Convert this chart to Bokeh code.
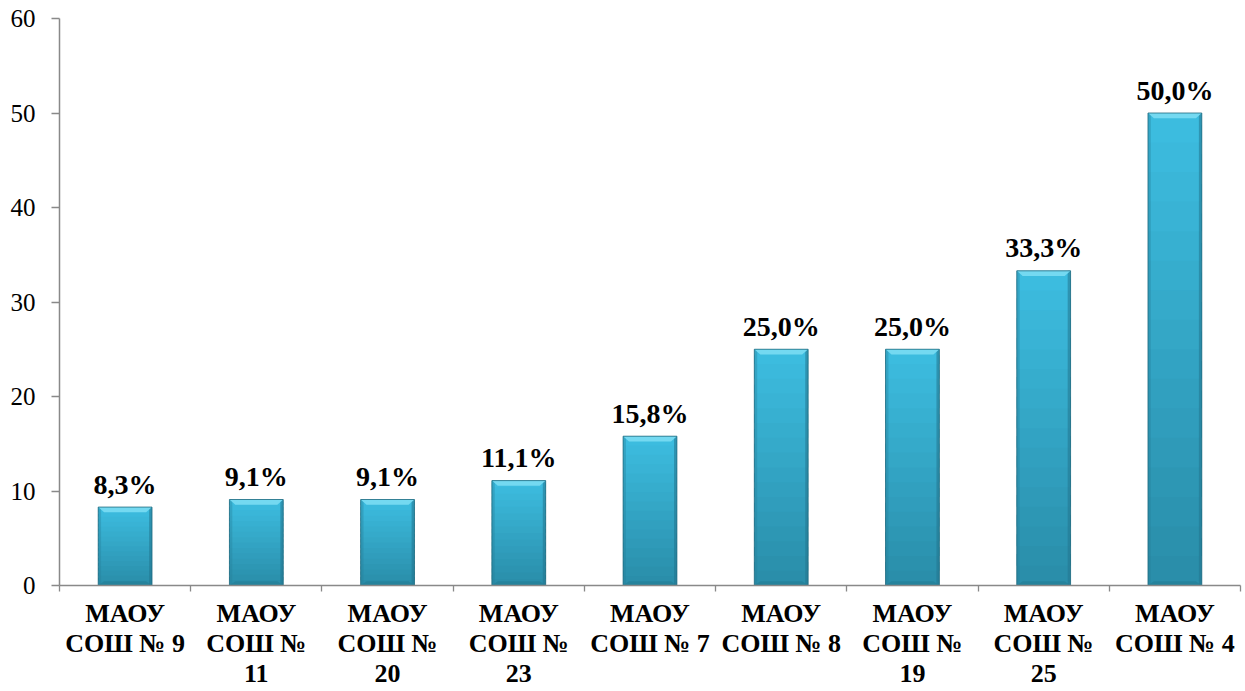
import numpy as np
from bokeh.plotting import figure
from bokeh.models import FixedTicker, Range1d, ColumnDataSource
from bokeh.core.properties import value
from bokeh.embed import file_html
from bokeh.resources import INLINE

# ---- data ----
categories = ["МАОУ\nСОШ № 9", "МАОУ\nСОШ №\n11", "МАОУ\nСОШ №\n20", "МАОУ\nСОШ №\n23",
              "МАОУ\nСОШ № 7", "МАОУ\nСОШ № 8", "МАОУ\nСОШ №\n19", "МАОУ\nСОШ №\n25",
              "МАОУ\nСОШ № 4"]
values = [8.3, 9.1, 9.1, 11.1, 15.8, 25.0, 25.0, 33.3, 50.0]
y_ticks = [0, 10, 20, 30, 40, 50, 60]

n = len(categories)
centers = [i + 0.5 for i in range(n)]
bar_w = 0.41

p = figure(width=1245, height=691, output_backend="svg", toolbar_location=None,
           x_range=Range1d(0, n), y_range=Range1d(0, 60),
           min_border_left=59, min_border_right=5, min_border_top=18, min_border_bottom=106)
p.outline_line_color = None
p.background_fill_color = "white"
p.border_fill_color = "white"
p.xgrid.visible = False
p.ygrid.visible = False

# ---- bars: vertical gradient built from overlapping slices of each bar ----
N = 16
top_c = np.array([0x3D, 0xBE, 0xE1])
bot_c = np.array([0x29, 0x8C, 0xA8])
xs, bots, tops, cols = [], [], [], []
for c, v in zip(centers, values):
    for k in range(N):
        b = v * k / N
        t = min(v, v * (k + 1.6) / N)
        f = (k + 0.5) / N
        col = bot_c + (top_c - bot_c) * f
        xs.append(c); bots.append(b); tops.append(t)
        cols.append("#%02x%02x%02x" % tuple(int(round(q)) for q in col))
p.vbar(x=xs, bottom=bots, top=tops, width=bar_w, fill_color=cols, line_color=None)

# side shading (darker right edge, slightly darker left edge)
edge = 0.022
p.vbar(x=[c + bar_w / 2 - edge / 2 for c in centers], bottom=0, top=values, width=edge,
       fill_color="#22758e", fill_alpha=0.55, line_color=None)
p.vbar(x=[c - bar_w / 2 + edge / 2 for c in centers], bottom=0, top=values, width=edge,
       fill_color="#267f99", fill_alpha=0.35, line_color=None)

# top bevel
bev_x = 0.045
bev_y = 0.55
pxs = [[c - bar_w / 2, c + bar_w / 2, c + bar_w / 2 - bev_x, c - bar_w / 2 + bev_x] for c in centers]
pys = [[v, v, v - bev_y, v - bev_y] for v in values]
p.patches(xs=pxs, ys=pys, fill_color="#74d9f1", line_color=None)
# bottom bevel (darker)
bxs = [[c - bar_w / 2, c + bar_w / 2, c + bar_w / 2 - bev_x, c - bar_w / 2 + bev_x] for c in centers]
bys = [[0, 0, bev_y * 0.8, bev_y * 0.8] for v in values]
p.patches(xs=bxs, ys=bys, fill_color="#237b93", fill_alpha=0.6, line_color=None)

# outline
p.vbar(x=centers, bottom=0, top=values, width=bar_w, fill_color=None,
       line_color="#1f6a80", line_width=1, line_alpha=0.8)

# ---- value labels ----
labels = [("%.1f" % v).replace(".", ",") + "%" for v in values]
src = ColumnDataSource(dict(x=centers, y=values, t=labels))
p.text(x="x", y="y", text="t", source=src, text_align="center", text_baseline="alphabetic",
       y_offset=-23, text_font=value("Liberation Serif"), text_font_style="bold",
       text_font_size="28px", text_color="black")

# ---- axes ----
axis_col = "#898989"
xa = p.xaxis[0]
xa.ticker = FixedTicker(ticks=centers, minor_ticks=list(range(n + 1)))
xa.major_label_overrides = {c: lab for c, lab in zip(centers, categories)}
xa.major_tick_line_color = None
xa.major_tick_out = 0
xa.major_tick_in = 0
xa.minor_tick_line_color = axis_col
xa.minor_tick_line_width = 1.3
xa.minor_tick_out = 6
xa.minor_tick_in = 0
xa.axis_line_color = axis_col
xa.axis_line_width = 1.5
xa.major_label_standoff = 7
xa.major_label_text_font = "Liberation Serif"
xa.major_label_text_font_style = "bold"
xa.major_label_text_font_size = "26px"
xa.major_label_text_color = "black"
xa.major_label_text_line_height = 1.05
xa.major_label_orientation = "horizontal"

ya = p.yaxis[0]
ya.ticker = FixedTicker(ticks=y_ticks, minor_ticks=[])
ya.axis_line_color = axis_col
ya.axis_line_width = 1.5
ya.major_tick_line_color = axis_col
ya.major_tick_line_width = 1.3
ya.major_tick_out = 8
ya.major_tick_in = 0
ya.minor_tick_line_color = None
ya.major_label_standoff = 16
ya.major_label_text_font = "Liberation Serif"
ya.major_label_text_font_size = "25px"
ya.major_label_text_color = "black"

open("out.html", "w").write(file_html(p, INLINE))
